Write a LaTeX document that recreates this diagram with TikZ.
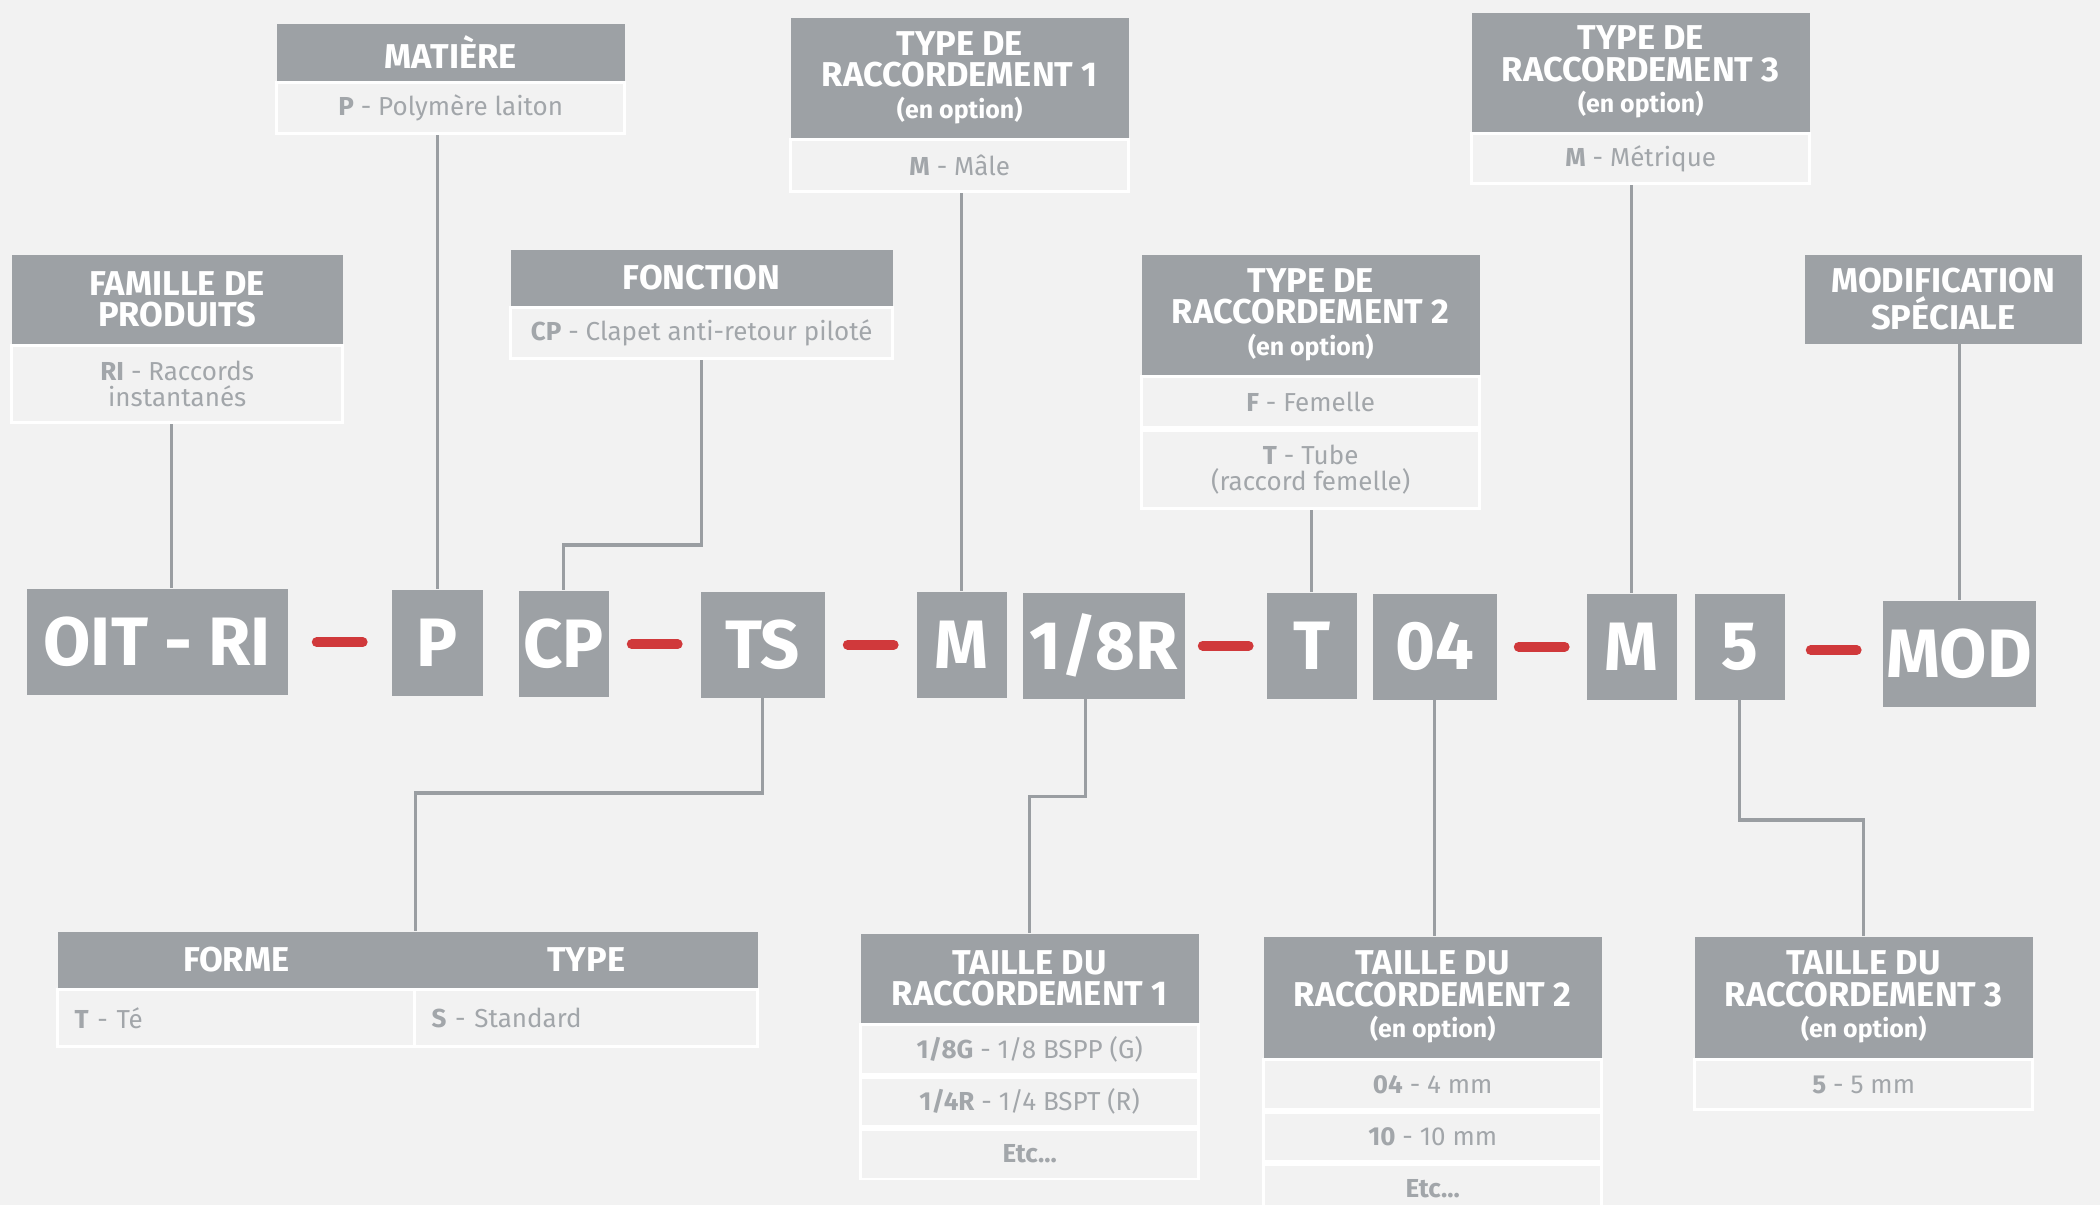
\documentclass[tikz,border=0pt]{standalone}
\usepackage{fontspec}
\setmainfont{Fira Sans}
\usepackage{xcolor}
\usetikzlibrary{positioning,calc}

\definecolor{bgcol}{HTML}{F2F2F2}
\definecolor{boxgray}{HTML}{9DA1A5}
\definecolor{linegray}{HTML}{9A9EA2}
\definecolor{txtgray}{HTML}{A2A6AA}
\definecolor{dashred}{HTML}{D0393B}

\newcommand{\hdfont}{\fontsize{9.8}{9.0}\selectfont\bfseries}
\newcommand{\optline}[1]{{\fontsize{7.1}{9}\selectfont #1}}
\newcommand{\rowfont}{\fontsize{7.4}{7.4}\selectfont}
\newcommand{\cdfont}{\fontsize{19.5}{19.5}\selectfont\bfseries}

\begin{document}
\begin{tikzpicture}[
    hd/.style={fill=boxgray, text=white, font=\hdfont, align=center,
               inner sep=0pt, anchor=north west},
    row/.style={fill=bgcol, draw=white, line width=0.8pt, text=txtgray,
                font=\rowfont, align=center, inner sep=0pt, below=0pt of #1},
    cd/.style={fill=boxgray, text=white, font=\cdfont, inner sep=0pt,
               anchor=north west, minimum height=1.06cm},
    link/.style={draw=linegray, line width=0.9pt},
    sep/.style={draw=dashred, line width=2.8pt, line cap=round}]
  \def\bw{3.38cm}
  \def\rh{0.495cm}

  \clip (0,0) rectangle (21,-12.05);
  \fill[bgcol] (0,0) rectangle (21,-12.05);

  % descriptions above
  \node[hd, minimum width=3.31cm, minimum height=0.89cm] (famH) at (0.11,-2.54) {FAMILLE DE\\PRODUITS};
  \node[row=famH, minimum width=3.31cm, minimum height=0.77cm] (famB) {\textbf{RI} - Raccords\\instantanés};

  \node[hd, minimum width=3.48cm, minimum height=0.57cm] (matH) at (2.76,-0.23) {MATIÈRE};
  \node[row=matH, minimum width=3.48cm, minimum height=0.51cm] (matB) {\textbf{P} - Polymère laiton};

  \node[hd, minimum width=3.82cm, minimum height=0.56cm] (fonH) at (5.10,-2.49) {FONCTION};
  \node[row=fonH, minimum width=3.82cm, minimum height=0.51cm] (fonB) {\textbf{CP} - Clapet anti-retour piloté};

  \node[hd, minimum width=\bw, minimum height=1.20cm] (rc1H) at (7.90,-0.17) {TYPE DE\\RACCORDEMENT 1\\\optline{(en option)}};
  \node[row=rc1H, minimum width=\bw, minimum height=0.52cm] (rc1B) {\textbf{M} - Mâle};

  \node[hd, minimum width=\bw, minimum height=1.20cm] (rc2H) at (11.41,-2.54) {TYPE DE\\RACCORDEMENT 2\\\optline{(en option)}};
  \node[row=rc2H, minimum width=\bw, minimum height=0.51cm] (rc2F) {\textbf{F} - Femelle};
  \node[row=rc2F, minimum width=\bw, minimum height=0.78cm] (rc2T) {\textbf{T} - Tube\\(raccord femelle)};

  \node[hd, minimum width=\bw, minimum height=1.19cm] (rc3H) at (14.71,-0.12) {TYPE DE\\RACCORDEMENT 3\\\optline{(en option)}};
  \node[row=rc3H, minimum width=\bw, minimum height=0.50cm] (rc3B) {\textbf{M} - Métrique};

  \node[hd, minimum width=2.77cm, minimum height=0.89cm] (modH) at (18.04,-2.54) {MODIFICATION\\SPÉCIALE};

  % reference code
  \node[cd, minimum width=2.61cm] (oit) at (0.26,-5.88) {OIT - RI};
  \node[cd, minimum width=0.91cm] (p) at (3.91,-5.89) {P};
  \node[cd, minimum width=0.90cm] (cp) at (5.18,-5.90) {CP};
  \node[cd, minimum width=1.24cm] (ts) at (7.00,-5.91) {TS};
  \node[cd, minimum width=0.90cm] (m1) at (9.16,-5.91) {M};
  \node[cd, minimum width=1.62cm] (r18) at (10.22,-5.92) {1/8R};
  \node[cd, minimum width=0.90cm] (t) at (12.66,-5.92) {T};
  \node[cd, minimum width=1.24cm] (s04) at (13.72,-5.93) {04};
  \node[cd, minimum width=0.90cm] (m2) at (15.86,-5.93) {M};
  \node[cd, minimum width=0.90cm] (s5) at (16.94,-5.93) {5};
  \node[cd, minimum width=1.53cm] (mod) at (18.82,-6.00) {MOD};

  \foreach \a/\b in {oit/p, cp/ts, ts/m1, r18/t, s04/m2, s5/mod}
    \draw[sep] ($(\a.east)!0.5!(\b.west)$) ++(-0.23,0) -- ++(0.46,0);

  % descriptions below
  \node[hd, minimum width=3.57cm, minimum height=0.56cm] (formeH) at (0.57,-9.31) {FORME};
  \node[hd, minimum width=3.43cm, minimum height=0.56cm] (typeH) at (4.14,-9.31) {TYPE};
  \node[row=formeH, minimum width=3.57cm, minimum height=0.57cm, text width=3.23cm, align=left] (formeB) {\textbf{T} - Té};
  \node[row=typeH, minimum width=3.43cm, minimum height=0.57cm, text width=3.09cm, align=left] (typeB) {\textbf{S} - Standard};

  \node[hd, minimum width=\bw, minimum height=0.89cm] (tl1H) at (8.60,-9.33) {TAILLE DU\\RACCORDEMENT 1};
  \node[row=tl1H, minimum width=\bw, minimum height=\rh] (tl1a) {\textbf{1/8G} - 1/8 BSPP (G)};
  \node[row=tl1a, minimum width=\bw, minimum height=\rh] (tl1b) {\textbf{1/4R} - 1/4 BSPT (R)};
  \node[row=tl1b, minimum width=\bw, minimum height=\rh] (tl1c) {\textbf{Etc...}};

  \node[hd, minimum width=\bw, minimum height=1.21cm] (tl2H) at (12.63,-9.36) {TAILLE DU\\RACCORDEMENT 2\\\optline{(en option)}};
  \node[row=tl2H, minimum width=\bw, minimum height=\rh] (tl2a) {\textbf{04} - 4 mm};
  \node[row=tl2a, minimum width=\bw, minimum height=\rh] (tl2b) {\textbf{10} - 10 mm};
  \node[row=tl2b, minimum width=\bw, minimum height=\rh] (tl2c) {\textbf{Etc...}};

  \node[hd, minimum width=\bw, minimum height=1.21cm] (tl3H) at (16.94,-9.36) {TAILLE DU\\RACCORDEMENT 3\\\optline{(en option)}};
  \node[row=tl3H, minimum width=\bw, minimum height=\rh] (tl3a) {\textbf{5} - 5 mm};

  % connectors
  \draw[link] ([xshift=-0.06cm]famB.south) -- ([xshift=-0.06cm]famB.south |- oit.north);
  \draw[link] (p.north |- matB.south) -- (p.north);
  \draw[link] (fonB.south) -- (fonB.south |- 0,-5.45) -| (cp.north);
  \draw[link] (m1.north |- rc1B.south) -- (m1.north);
  \draw[link] (t.north |- rc2T.south) -- (t.north);
  \draw[link] (m2.north |- rc3B.south) -- (m2.north);
  \draw[link] (mod.north |- modH.south) -- (mod.north);
  \draw[link] (ts.south) -- (ts.south |- 0,-7.93) -| (formeH.north east);
  \draw[link] ([xshift=-0.18cm]r18.south) -- ++(0,-0.97) -| (tl1H.north);
  \draw[link] (s04.south) -- (s04.south |- tl2H.north);
  \draw[link] (s5.south) -- (s5.south |- 0,-8.20) -| (tl3H.north);
\end{tikzpicture}
\end{document}
